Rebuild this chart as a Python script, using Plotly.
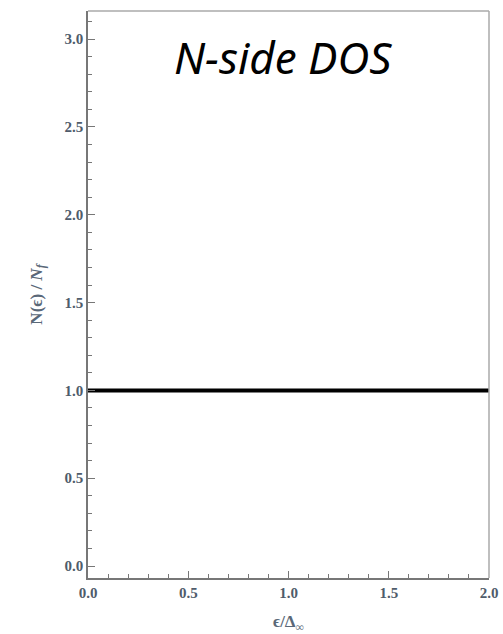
import plotly.graph_objects as go

# Data
energy = [0.0, 2.0]
dos = [1.0, 1.0]
x_ticks = [0.0, 0.5, 1.0, 1.5, 2.0]
y_ticks = [0.0, 0.5, 1.0, 1.5, 2.0, 2.5, 3.0]
title_text = "N-side DOS"

fig = go.Figure()
fig.add_trace(go.Scatter(x=energy, y=dos, mode="lines",
                         line=dict(color="black", width=4), showlegend=False,
                         cliponaxis=False))

tickfont = dict(family="Liberation Serif, Times New Roman, serif", size=15,
                color="#4f5c6b", weight="bold")
titlefont = dict(family="Liberation Serif, Times New Roman, serif", size=17,
                 color="#5a6878", weight="bold")

fig.update_layout(
    width=503, height=634,
    margin=dict(l=88, r=14, t=11, b=56, autoexpand=False),
    paper_bgcolor="white", plot_bgcolor="white",
    xaxis=dict(range=[0, 2], tickvals=x_ticks, ticktext=[f"{v:.1f}" for v in x_ticks],
               ticks="inside", ticklen=7, tickcolor="#777", tickwidth=1,
               minor=dict(dtick=0.1, ticks="inside", ticklen=4, tickcolor="#777"),
               showline=True, linecolor="#777", linewidth=1.5,
               showgrid=False, zeroline=False, automargin=False,
               tickfont=tickfont,
               title=dict(text="ϵ/Δ<sub>∞</sub>", standoff=18, font=titlefont)),
    yaxis=dict(range=[-0.068, 3.16], tickvals=y_ticks, ticktext=[f"{v:.1f}" for v in y_ticks],
               ticks="inside", ticklen=7, tickcolor="#777", tickwidth=1,
               minor=dict(dtick=0.1, ticks="inside", ticklen=4, tickcolor="#777"),
               showline=True, linecolor="#777", linewidth=1.5,
               showgrid=False, zeroline=False, automargin=False,
               tickfont=tickfont,
               title=dict(text="N(ϵ) / <i>N<sub>f</sub></i>", standoff=18, font=titlefont)),
)

# top/right frame (lighter)
fig.add_shape(type="line", xref="x domain", yref="y domain", x0=0, x1=1, y0=1, y1=1,
              line=dict(color="#aaa", width=1.5))
fig.add_shape(type="line", xref="x domain", yref="y domain", x0=1, x1=1, y0=0, y1=1,
              line=dict(color="#aaa", width=1.5))

fig.add_annotation(text="<i>" + title_text + "</i>", xref="paper", yref="paper", x=0.487, y=0.919,
                   showarrow=False, xanchor="center", yanchor="middle",
                   font=dict(family="Comic Sans MS, Noto Sans, sans-serif", size=44, color="black"))

fig.write_html("out.html")
